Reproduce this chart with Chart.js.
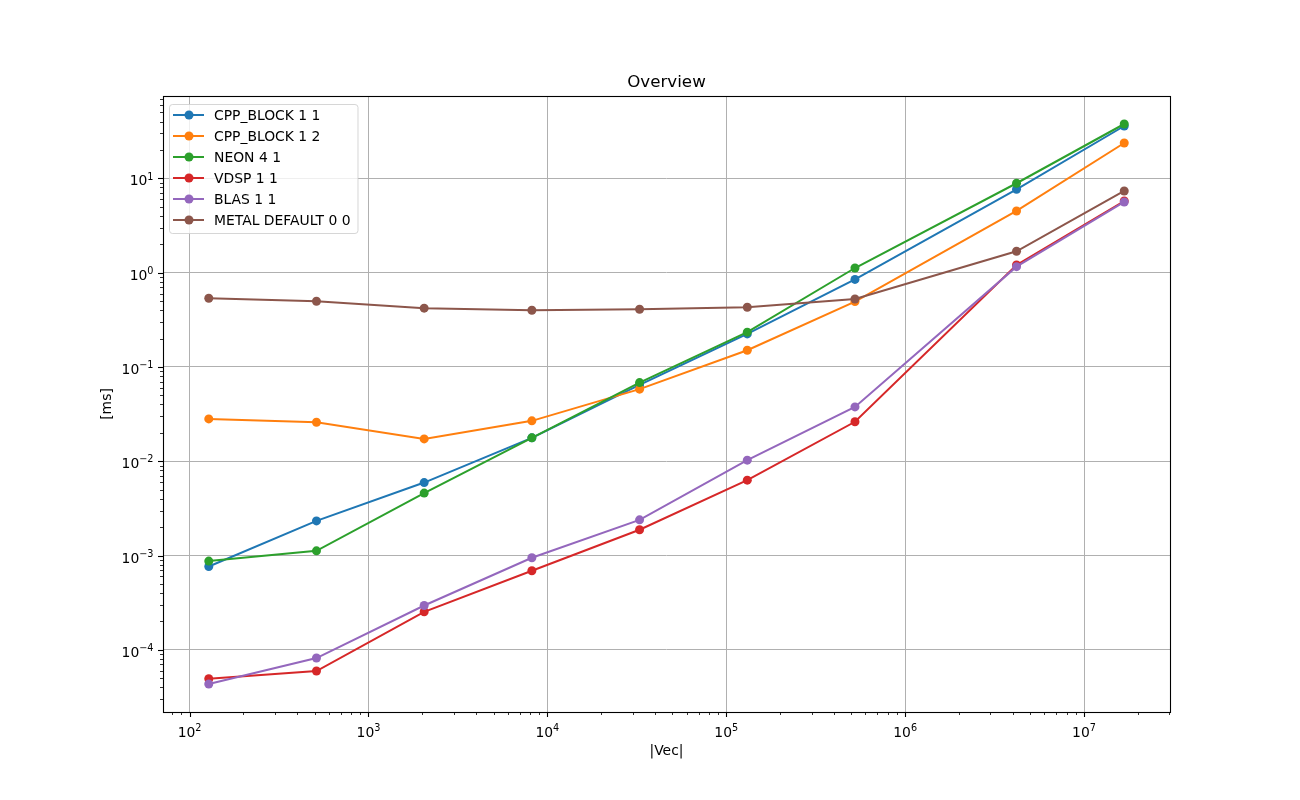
<!DOCTYPE html>
<html>
<head>
<meta charset="utf-8">
<title>Overview</title>
<script src="https://cdn.jsdelivr.net/npm/chart.js@4.4.1/dist/chart.umd.min.js"></script>
<style>
  html, body { margin: 0; padding: 0; background: #fff; }
  #wrap { width: 1300px; height: 800px; }
</style>
</head>
<body>
<div id="wrap"><canvas id="chart" width="1300" height="800"></canvas></div>
<script>
// Data
const chartTitle = 'Overview';
const vecSizes = [128, 512, 2048, 8192, 32768, 131072, 524288, 4194304, 16777216];
const seriesNames = ['CPP_BLOCK 1 1', 'CPP_BLOCK 1 2', 'NEON 4 1', 'VDSP 1 1', 'BLAS 1 1', 'METAL DEFAULT 0 0'];
const cppBlock11 = [7.65e-4, 2.33e-3, 5.94e-3, 0.0177, 0.0645, 0.224, 0.847, 7.66, 35.9];
const cppBlock12 = [0.0281, 0.0259, 0.01726, 0.0268, 0.0581, 0.1504, 0.493, 4.51, 23.7];
const neon41 = [8.73e-4, 1.122e-3, 4.59e-3, 0.0177, 0.0682, 0.2336, 1.12, 8.87, 37.7];
const vdsp11 = [4.93e-5, 5.96e-5, 2.53e-4, 6.89e-4, 1.875e-3, 6.3e-3, 0.0262, 1.207, 5.75];
const blas11 = [4.34e-5, 8.18e-5, 2.95e-4, 9.46e-4, 2.39e-3, 0.01027, 0.0377, 1.158, 5.62];
const metalDefault00 = [0.535, 0.497, 0.420, 0.399, 0.409, 0.430, 0.526, 1.686, 7.35];
const xTickExps = [2, 3, 4, 5, 6, 7];
const yTickExps = [-4, -3, -2, -1, 0, 1];

const allSeries = [cppBlock11, cppBlock12, neon41, vdsp11, blas11, metalDefault00];
const colors = ['#1f77b4', '#ff7f0e', '#2ca02c', '#d62728', '#9467bd', '#8c564b'];
const FONT = 'DejaVu Sans';

// matplotlib style 5% margins in log space
const logLimits = (values) => {
    const lo = Math.log10(Math.min(...values));
    const hi = Math.log10(Math.max(...values));
    const m = (hi - lo) * 0.05;
    return [10 ** (lo - m), 10 ** (hi + m)];
};
const [xMin, xMax] = logLimits(vecSizes);
const [yMin, yMax] = logLimits(allSeries.flat());

// draws "10" with a raised exponent, like mathtext
const drawPow = (ctx, exp, x, baseline, align) => {
    const base = '10', sup = String(exp).replace('-', '\u2212');
    ctx.font = `13.9px "${FONT}"`;
    const wb = ctx.measureText(base).width;
    ctx.font = `9.7px "${FONT}"`;
    const ws = ctx.measureText(sup).width;
    const total = wb + ws;
    const x0 = align === 'right' ? x - total : x - total / 2;
    ctx.textAlign = 'left';
    ctx.textBaseline = 'alphabetic';
    ctx.fillStyle = '#000';
    ctx.font = `13.9px "${FONT}"`;
    ctx.fillText(base, x0, baseline);
    ctx.font = `9.7px "${FONT}"`;
    ctx.fillText(sup, x0 + wb, baseline - 5.8);
};

// title, ticks, tick labels, frame and legend, like matplotlib
const axesFrame = {
    id: 'axesFrame',
    afterDraw(chart) {
        const {ctx, chartArea: a, scales: {x, y}} = chart;
        ctx.save();

        ctx.fillStyle = '#000';
        ctx.font = `16.7px "${FONT}"`;
        ctx.textAlign = 'center';
        ctx.textBaseline = 'alphabetic';
        ctx.fillText(chartTitle, (a.left + a.right) / 2, a.top - 9.5);

        const minors = (min, max) => {
            const out = [];
            for (let d = Math.floor(Math.log10(min)); d <= Math.ceil(Math.log10(max)); d++) {
                for (let k = 2; k <= 9; k++) {
                    const v = k * 10 ** d;
                    if (v >= min && v <= max) out.push(v);
                }
            }
            return out;
        };

        ctx.strokeStyle = '#000';
        const drawX = (values, len, width) => {
            ctx.lineWidth = width;
            values.forEach(v => {
                const px = Math.round(x.getPixelForValue(v)) + 0.5;
                ctx.beginPath();
                ctx.moveTo(px, a.bottom);
                ctx.lineTo(px, a.bottom + len);
                ctx.stroke();
            });
        };
        const drawY = (values, len, width) => {
            ctx.lineWidth = width;
            values.forEach(v => {
                const py = Math.round(y.getPixelForValue(v)) + 0.5;
                ctx.beginPath();
                ctx.moveTo(a.left - len, py);
                ctx.lineTo(a.left, py);
                ctx.stroke();
            });
        };
        drawX(minors(xMin, xMax), 3, 0.8);
        drawY(minors(yMin, yMax), 3, 0.8);
        drawX(xTickExps.map(e => 10 ** e), 5, 1.1);
        drawY(yTickExps.map(e => 10 ** e), 5, 1.1);

        xTickExps.forEach(e => drawPow(ctx, e, x.getPixelForValue(10 ** e), a.bottom + 25, 'center'));
        yTickExps.forEach(e => drawPow(ctx, e, a.left - 9.5, y.getPixelForValue(10 ** e) + 7, 'right'));

        ctx.lineWidth = 1.1;
        ctx.strokeStyle = '#000';
        ctx.strokeRect(Math.round(a.left) + 0.5, Math.round(a.top) + 0.5,
                       Math.round(a.right - a.left), Math.round(a.bottom - a.top));

        // legend box, upper left
        const lx = a.left + 6, ly = a.top + 8, rowH = 21;
        ctx.font = `13.9px "${FONT}"`;
        const labels = chart.data.datasets.map(d => d.label);
        const maxW = Math.max(...labels.map(t => ctx.measureText(t).width));
        const w = 45 + maxW + 7, h = 11 + rowH * (labels.length - 1) + 13;
        ctx.beginPath();
        ctx.roundRect(lx + 0.5, ly + 0.5, w, h, 3);
        ctx.fillStyle = 'rgba(255,255,255,0.8)';
        ctx.fill();
        ctx.lineWidth = 1;
        ctx.strokeStyle = 'rgba(204,204,204,0.8)';
        ctx.stroke();

        chart.data.datasets.forEach((d, i) => {
            const cy = ly + 11 + i * rowH;
            ctx.strokeStyle = d.borderColor;
            ctx.lineWidth = 2;
            ctx.beginPath();
            ctx.moveTo(lx + 4, cy);
            ctx.lineTo(lx + 35, cy);
            ctx.stroke();
            ctx.fillStyle = d.borderColor;
            ctx.beginPath();
            ctx.arc(lx + 20, cy, 4.5, 0, Math.PI * 2);
            ctx.fill();
            ctx.fillStyle = '#000';
            ctx.textBaseline = 'middle';
            ctx.textAlign = 'left';
            ctx.fillText(d.label, lx + 45, cy + 1);
        });
        ctx.restore();
    }
};

const datasets = allSeries.map((values, i) => ({
    label: seriesNames[i],
    data: vecSizes.map((v, j) => ({x: v, y: values[j]})),
    borderColor: colors[i],
    backgroundColor: colors[i],
    borderWidth: 2,
    pointRadius: 4.5,
    pointBorderWidth: 0,
    pointHoverRadius: 4.5,
    tension: 0,
    fill: false,
    order: allSeries.length - i
}));

new Chart(document.getElementById('chart'), {
    type: 'line',
    data: {datasets},
    options: {
        responsive: false,
        animation: false,
        events: [],
        layout: {padding: {left: 0, right: 130, top: 96, bottom: 0}},
        plugins: {
            legend: {display: false},
            tooltip: {enabled: false},
            title: {display: false}
        },
        scales: {
            x: {
                type: 'logarithmic',
                min: xMin,
                max: xMax,
                afterBuildTicks: (scale) => { scale.ticks = xTickExps.map(e => ({value: 10 ** e})); },
                afterFit: (scale) => { scale.height = 88; },
                grid: {color: '#b0b0b0', lineWidth: 1, drawTicks: false},
                border: {display: false},
                ticks: {display: false, autoSkip: false},
                title: {
                    display: true,
                    text: '|Vec|',
                    color: '#000',
                    font: {family: FONT, size: 13.9},
                    padding: {top: 0, bottom: 40}
                }
            },
            y: {
                type: 'logarithmic',
                min: yMin,
                max: yMax,
                afterBuildTicks: (scale) => { scale.ticks = yTickExps.map(e => ({value: 10 ** e})); },
                afterFit: (scale) => { scale.width = 163; },
                grid: {color: '#b0b0b0', lineWidth: 1, drawTicks: false},
                border: {display: false},
                ticks: {display: false, autoSkip: false},
                title: {
                    display: true,
                    text: '[ms]',
                    color: '#000',
                    font: {family: FONT, size: 13.9},
                    padding: {top: 99, bottom: 0}
                }
            }
        }
    },
    plugins: [axesFrame]
});
</script>
</body>
</html>
